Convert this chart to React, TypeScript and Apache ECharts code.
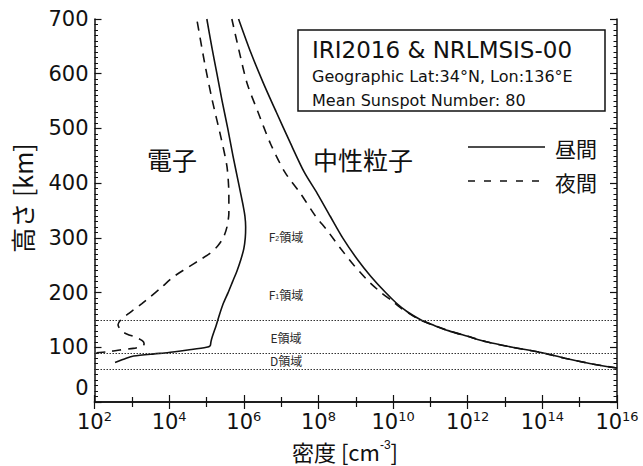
import React, { useEffect, useRef } from "react";
import * as echarts from "echarts";

// Heights (km) and log10 of density (cm^-3)
const dayElectronHeights = [72, 80, 84, 88, 90, 95, 100, 103, 110, 120, 140, 160, 180, 200, 220, 240, 260, 280, 300, 320, 340, 360, 400, 450, 500, 550, 600, 650, 700];
const dayElectronLogN = [2.55, 2.85, 3.05, 3.6, 3.95, 4.5, 5.0, 5.1, 5.12, 5.16, 5.26, 5.35, 5.45, 5.58, 5.7, 5.82, 5.92, 6.0, 6.04, 6.05, 6.03, 5.98, 5.86, 5.71, 5.57, 5.42, 5.28, 5.14, 5.01];

const nightElectronHeights = [90, 92, 95, 98, 102, 106, 112, 118, 124, 130, 141, 150, 160, 170, 180, 192, 210, 229, 245, 260, 272, 285, 300, 320, 345, 380, 430, 480, 553, 620, 700];
const nightElectronLogN = [2.05, 2.37, 2.68, 3.04, 3.28, 3.33, 3.28, 3.12, 2.88, 2.72, 2.63, 2.7, 2.88, 3.08, 3.27, 3.49, 3.8, 4.12, 4.48, 4.83, 5.1, 5.3, 5.45, 5.55, 5.6, 5.6, 5.55, 5.4, 5.15, 4.95, 4.74];

const dayNeutralHeights = [62, 70, 80, 90, 100, 110, 120, 130, 140, 150, 165, 180, 200, 230, 260, 300, 339, 381, 420, 473, 530, 582, 640, 700];
const dayNeutralLogN = [16.0, 15.3, 14.6, 14.0, 13.2, 12.5, 12.0, 11.5, 11.1, 10.75, 10.38, 10.1, 9.8, 9.4, 9.05, 8.65, 8.32, 7.97, 7.62, 7.25, 6.87, 6.53, 6.18, 5.86];

const nightNeutralHeights = [62, 70, 80, 90, 100, 110, 120, 130, 140, 150, 170, 185, 200, 220, 250, 280, 314, 340, 381, 420, 473, 530, 582, 640, 700];
const nightNeutralLogN = [16.0, 15.3, 14.6, 14.0, 13.2, 12.5, 12.0, 11.5, 11.1, 10.72, 10.25, 9.97, 9.68, 9.35, 8.95, 8.6, 8.23, 7.92, 7.52, 7.1, 6.71, 6.38, 6.09, 5.88, 5.68];

const regionBoundaries = [150, 90, 60];
const xTickExponents = [2, 16];
const yRange = [0, 700];

const LATIN = "'DejaVu Sans', 'Noto Sans CJK JP', sans-serif";
const CJK = "'Noto Sans CJK JP', sans-serif";

const toPairs = (hs: number[], ns: number[]) => hs.map((h, i) => [ns[i], h]);

export default function App() {
  const ref = useRef<HTMLDivElement>(null);
  useEffect(() => {
    if (!ref.current) return;
    const chart = echarts.init(ref.current, undefined, { renderer: "svg" });
    const axisLine = { show: true, lineStyle: { color: "#111", width: 1.5 } };
    const xCommon = {
      type: "value",
      min: xTickExponents[0],
      max: xTickExponents[1],
      interval: 2,
      axisLine,
      axisTick: { show: true, inside: true, length: 7, lineStyle: { color: "#111", width: 1.2 } },
      minorTick: { show: true, splitNumber: 2, length: 5, lineStyle: { color: "#111", width: 1.2 } },
      splitLine: { show: false },
      minorSplitLine: { show: false },
    };
    const yCommon = {
      type: "value",
      min: yRange[0],
      max: yRange[1],
      interval: 100,
      axisLine,
      axisTick: { show: true, inside: true, length: 7, lineStyle: { color: "#111", width: 1.2 } },
      minorTick: { show: true, splitNumber: 10, length: 3.5, lineStyle: { color: "#111", width: 1 } },
      splitLine: { show: false },
      minorSplitLine: { show: false },
    };
    const lineSeries = (name: string, data: number[][], dashed: boolean) => ({
      name,
      type: "line",
      data,
      showSymbol: false,
      smooth: 0.25,
      lineStyle: { color: "#111", width: 1.6, type: dashed ? [9, 7] : "solid" },
      z: dashed ? 2 : 3,
    });
    const regionStyle = { font: `12px ${CJK}`, fill: "#2a2a2a", align: "center", verticalAlign: "middle" };
    chart.setOption({
      animation: false,
      backgroundColor: "#fff",
      grid: { left: 94.5, right: 26, top: 19, bottom: 64, containLabel: false },
      xAxis: [
        {
          ...xCommon,
          position: "bottom",
          axisLabel: {
            margin: 8,
            color: "#111",
            formatter: (v: number) => `{b|10}{s|${v}}`,
            rich: {
              b: { fontSize: 21, fontFamily: LATIN, color: "#111", lineHeight: 23 },
              s: { fontSize: 13, fontFamily: LATIN, color: "#111", lineHeight: 13, verticalAlign: "top" },
            },
          },
        },
        { ...xCommon, position: "top", axisLabel: { show: false } },
      ],
      yAxis: [
        {
          ...yCommon,
          position: "left",
          axisLabel: {
            margin: 6,
            fontSize: 21,
            fontFamily: LATIN,
            color: "#111",
            formatter: (v: number) => (v === 0 ? `{z|${v}}` : `${v}`),
            rich: { z: { fontSize: 21, fontFamily: LATIN, color: "#111", lineHeight: 22, padding: [0, 0, 28, 0] } },
          },
        },
        { ...yCommon, position: "right", axisLabel: { show: false } },
      ],
      series: [
        {
          type: "line",
          data: [],
          markLine: {
            silent: true,
            symbol: "none",
            label: { show: false },
            lineStyle: { color: "#333", width: 1, type: [1.5, 1.5] },
            data: regionBoundaries.map((h) => ({ yAxis: h })),
          },
        },
        lineSeries("夜間 中性粒子", toPairs(nightNeutralHeights, nightNeutralLogN), true),
        lineSeries("夜間 電子", toPairs(nightElectronHeights, nightElectronLogN), true),
        lineSeries("昼間 中性粒子", toPairs(dayNeutralHeights, dayNeutralLogN), false),
        lineSeries("昼間 電子", toPairs(dayElectronHeights, dayElectronLogN), false),
      ],
      graphic: [
        {
          type: "rect",
          shape: { x: 298, y: 30, width: 307, height: 81 },
          style: { fill: "#fff", stroke: "#111", lineWidth: 1.5 },
          z: 10,
        },
        { type: "text", x: 312, y: 50, z: 11, style: { text: "IRI2016 & NRLMSIS-00", font: `23px ${LATIN}`, fill: "#111", verticalAlign: "middle" } },
        { type: "text", x: 312, y: 76, z: 11, style: { text: "Geographic Lat:34°N, Lon:136°E", font: `16px ${LATIN}`, fill: "#111", verticalAlign: "middle" } },
        { type: "text", x: 312, y: 100, z: 11, style: { text: "Mean Sunspot Number: 80", font: `16px ${LATIN}`, fill: "#111", verticalAlign: "middle" } },
        { type: "text", x: 172, y: 159, z: 11, style: { text: "電子", font: `25px ${CJK}`, fill: "#111", align: "center", verticalAlign: "middle" } },
        { type: "text", x: 363, y: 159, z: 11, style: { text: "中性粒子", font: `25px ${CJK}`, fill: "#111", align: "center", verticalAlign: "middle" } },
        { type: "line", shape: { x1: 468, y1: 147, x2: 545, y2: 147 }, style: { stroke: "#111", lineWidth: 1.6 }, z: 11 },
        { type: "line", shape: { x1: 468, y1: 181, x2: 545, y2: 181 }, style: { stroke: "#111", lineWidth: 1.6, lineDash: [7, 9] }, z: 11 },
        { type: "text", x: 555, y: 148, z: 11, style: { text: "昼間", font: `21px ${CJK}`, fill: "#111", verticalAlign: "middle" } },
        { type: "text", x: 555, y: 182, z: 11, style: { text: "夜間", font: `21px ${CJK}`, fill: "#111", verticalAlign: "middle" } },
        {
          type: "text", x: 286, y: 236, z: 11,
          style: { ...regionStyle, text: "F{s|2}領域", rich: { s: { fontSize: 7, fill: "#2a2a2a", verticalAlign: "bottom" } } },
        },
        {
          type: "text", x: 286, y: 294, z: 11,
          style: { ...regionStyle, text: "F{s|1}領域", rich: { s: { fontSize: 7, fill: "#2a2a2a", verticalAlign: "bottom" } } },
        },
        { type: "text", x: 286, y: 337, z: 11, style: { ...regionStyle, text: "E領域" } },
        { type: "text", x: 286, y: 360, z: 11, style: { ...regionStyle, text: "D領域" } },
        { type: "text", x: 22, y: 198, rotation: Math.PI / 2, z: 11, style: { text: "高さ [km]", font: `25px ${CJK}`, fill: "#111", align: "center", verticalAlign: "middle" } },
        {
          type: "text", x: 345, y: 451, z: 11,
          style: {
            text: "密度 [cm{s|-3}]",
            font: `22px ${CJK}`, fill: "#111", align: "center", verticalAlign: "middle", lineHeight: 24,
            rich: { s: { fontSize: 12, fill: "#111", verticalAlign: "top", lineHeight: 12 } },
          },
        },
      ],
    });
    return () => chart.dispose();
  }, []);
  return <div ref={ref} style={{ width: 643, height: 466, position: "absolute", left: 0, top: 0 }} />;
}
